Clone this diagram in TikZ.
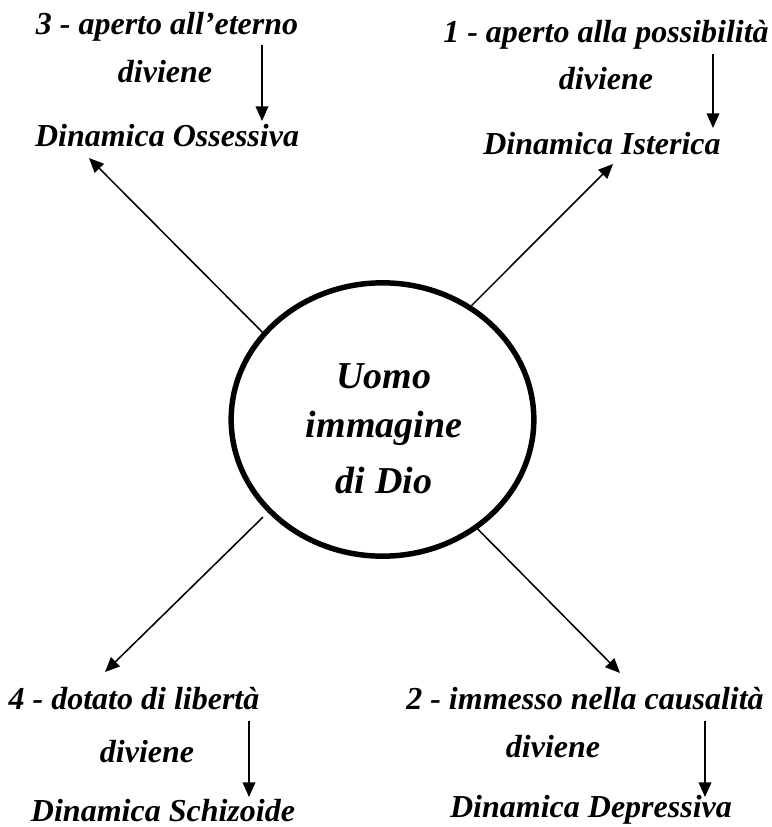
\documentclass[tikz,border=0pt]{standalone}
\usepackage{fontspec}
\setmainfont{Liberation Serif}
\usetikzlibrary{arrows.meta,shapes.geometric}
\begin{document}
\begin{tikzpicture}[x=0.75pt,y=-0.75pt,
  lbl/.style={font=\fontsize{24}{28}\selectfont\bfseries\itshape, inner sep=0pt, anchor=base},
  core/.style={font=\fontsize{28.5}{34}\selectfont\bfseries\itshape, inner sep=0pt, anchor=base},
  link/.style={line width=1.15pt, -{Triangle[length=11pt,width=9.5pt]}},
  hub/.style={ellipse, draw, line width=4.1pt, minimum width=227pt, minimum height=205pt, inner sep=0pt}]
\useasboundingbox (0,0) rectangle (771,827);

% central ellipse and its text
\node[hub] (c) at (382.5,419.5) {};
\node[core] (c1) at (384,388) {Uomo};
\node[core] (c2) at (384,437) {immagine};
\node[core] (c3) at (384,493) {di Dio};

% upper left group
\node[lbl] (t3a) at (167,35) {3 - aperto all’eterno};
\node[lbl] (t3b) at (165,83) {diviene};
\node[lbl] (t3c) at (167,147) {Dinamica Ossessiva};
% upper right group
\node[lbl] (t1a) at (606,43) {1 - aperto alla possibilità};
\node[lbl] (t1b) at (606,90) {diviene};
\node[lbl] (t1c) at (602,155) {Dinamica Isterica};
% lower left group
\node[lbl] (t4a) at (134,709) {4 - dotato di libertà};
\node[lbl] (t4b) at (147,762) {diviene};
\node[lbl] (t4c) at (163,821) {Dinamica Schizoide};
% lower right group
\node[lbl] (t2a) at (585,709) {2 - immesso nella causalità};
\node[lbl] (t2b) at (553,757) {diviene};
\node[lbl] (t2c) at (591,817) {Dinamica Depressiva};

% arrow ends
\coordinate (d3) at (89,158);
\coordinate (d1) at (613,164);
\coordinate (d4) at (105,672);
\coordinate (d2) at (620,673);
\coordinate (v3s) at (262,45);  \coordinate (v3e) at (262,121);
\coordinate (v1s) at (713,54);  \coordinate (v1e) at (713,128);
\coordinate (v4s) at (249,721); \coordinate (v4e) at (249,797);
\coordinate (v2s) at (705,721); \coordinate (v2e) at (705,797);

% diagonal arrows out of the ellipse
\draw[link] (c.144) -- (d3);
\draw[link] (c.52) -- (d1);
\draw[link, shorten <=5pt] (c.219) -- (d4);
\draw[link] (c.311) -- (d2);

% vertical "diviene" arrows
\draw[link] (v3s) -- (v3e);
\draw[link] (v1s) -- (v1e);
\draw[link] (v4s) -- (v4e);
\draw[link] (v2s) -- (v2e);
\end{tikzpicture}
\end{document}
